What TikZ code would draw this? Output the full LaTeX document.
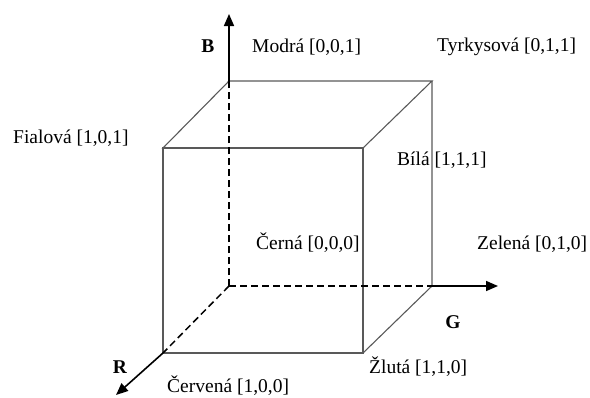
\documentclass[tikz,border=0pt]{standalone}
\usepackage{fontspec}
\setmainfont{Liberation Serif}
\usetikzlibrary{arrows.meta}

\begin{document}
\begin{tikzpicture}[x=1pt,y=-1pt,>={Triangle[length=12pt,width=10pt]}]
  \tikzset{cubeedge/.style={draw=black!65, line width=1.1pt},
    axisline/.style={->, line width=1.6pt},
    hiddenedge/.style={line width=1.5pt, dash pattern=on 7pt off 4pt},
    colorlabel/.style={anchor=west, inner sep=0pt, font=\fontsize{19.5}{22}\selectfont},
    axislabel/.style={inner sep=0pt, font=\bfseries\fontsize{19.5}{22}\selectfont}}
  \useasboundingbox (0,0) rectangle (590,397);
  % corners of the cube
  \coordinate (k) at (229,286);
  \coordinate (b) at (229,81);
  \coordinate (c) at (432,81);
  \coordinate (m) at (163,148);
  \coordinate (w) at (363,148);
  \coordinate (r) at (163,353);
  \coordinate (y) at (363,353);
  \coordinate (g) at (432,286);
  % axis ends
  \coordinate (btip) at (229,14);
  \coordinate (gtip) at (498,286);
  \coordinate (rtip) at (116,395);
  % cube
  \draw[cubeedge] (m) -- (b) -- (c) -- (w) -- cycle;
  \draw[cubeedge] (m) rectangle (y);
  \draw[cubeedge] (c) -- (g) -- (y);
  % hidden edges
  \foreach \a/\b in {k/b,k/g,k/r}{\draw[hiddenedge] (\a) -- (\b);}
  % axes
  \foreach \a/\b in {b/btip,g/gtip,r/rtip}{\draw[axisline] (\a) -- (\b);}
  % labels
  \node[axislabel] (lb) at (208,46) {B};
  \node[axislabel] (lg) at (453,322) {G};
  \node[axislabel] (lr) at (120,367) {R};
  \node[colorlabel] (modra) at (252,47) {Modrá [0,0,1]};
  \node[colorlabel] (tyrkys) at (437,47) {Tyrkysová [0,1,1]};
  \node[colorlabel] (fialova) at (13,138) {Fialová [1,0,1]};
  \node[colorlabel] (bila) at (397,160) {Bílá [1,1,1]};
  \node[colorlabel] (cerna) at (256,243) {Černá [0,0,0]};
  \node[colorlabel] (zelena) at (477,244) {Zelená [0,1,0]};
  \node[colorlabel] (zluta) at (369,367) {Žlutá [1,1,0]};
  \node[colorlabel] (cervena) at (167,386) {Červená [1,0,0]};
\end{tikzpicture}
\end{document}
